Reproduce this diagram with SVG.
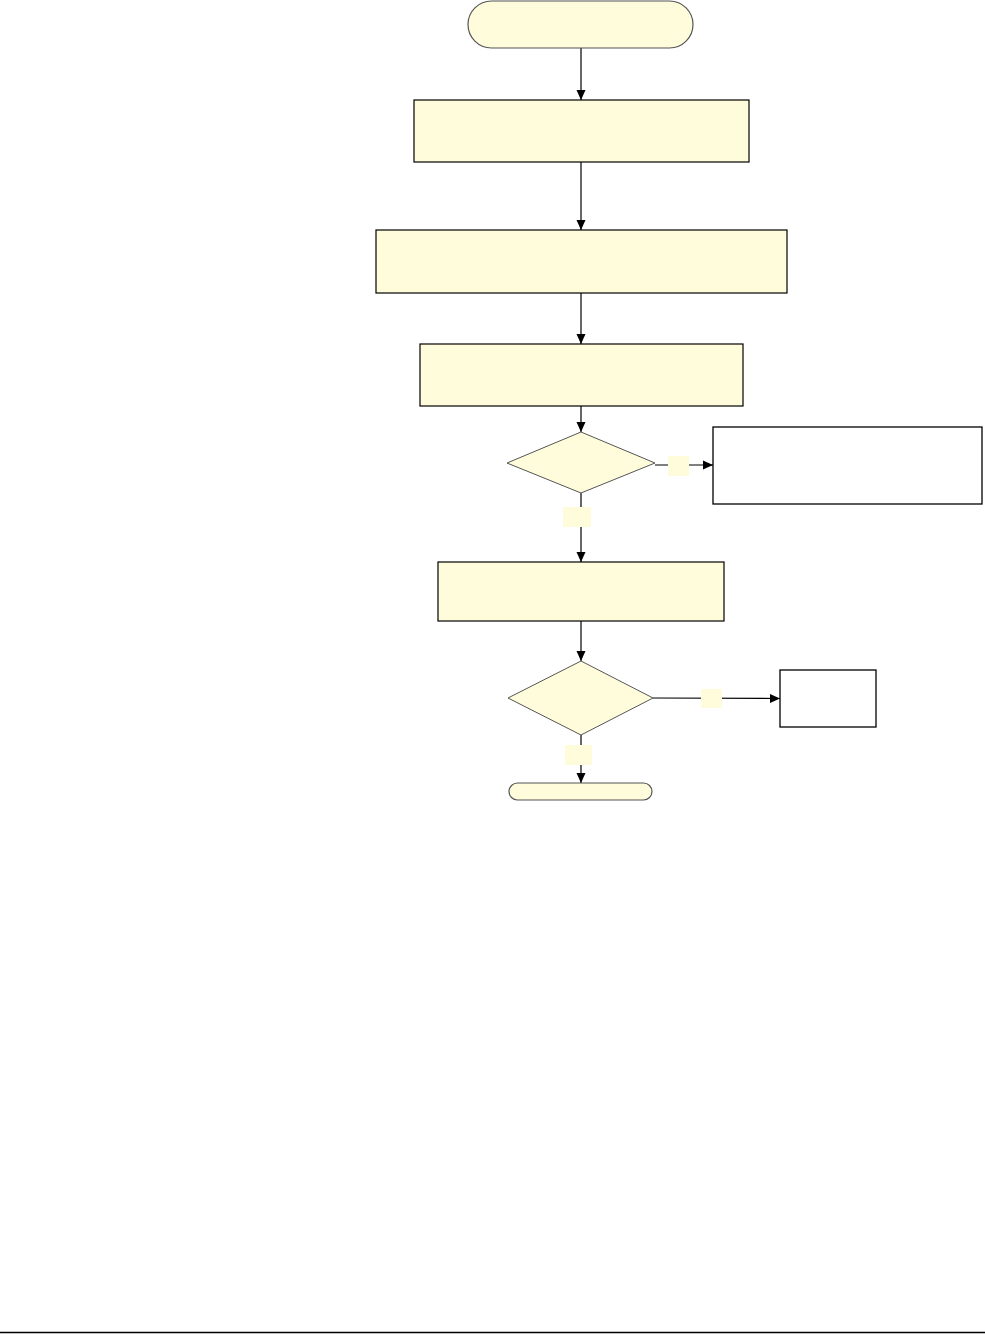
<svg xmlns="http://www.w3.org/2000/svg" width="985" height="1334" viewBox="0 0 985 1334">
<style>
.proc{fill:#fffcdc;stroke:#000;stroke-width:1.2}
.term{fill:#fffcdc;stroke:#555;stroke-width:1.2}
.dec{fill:#fffcdc;stroke:#555;stroke-width:1}
.out{fill:#fff;stroke:#000;stroke-width:1.3}
.lbl{fill:#fffcdc;stroke:none}
.con{fill:none;stroke:#000;stroke-width:1.2}
</style>
<defs>
<marker id="ah" viewBox="0 0 10 10" refX="10" refY="5" markerWidth="10" markerHeight="10" markerUnits="userSpaceOnUse" orient="auto">
<path d="M0,0.5 L10,5 L0,9.5 Z" fill="#000"/>
</marker>
</defs>
<rect width="985" height="1334" fill="#fff"/>
<g id="connectors">
<line class="con" x1="581" y1="48" x2="581" y2="100" marker-end="url(#ah)"/>
<line class="con" x1="581" y1="162" x2="581" y2="230" marker-end="url(#ah)"/>
<line class="con" x1="581" y1="293" x2="581" y2="344" marker-end="url(#ah)"/>
<line class="con" x1="581" y1="406" x2="581" y2="432" marker-end="url(#ah)"/>
<line class="con" x1="655" y1="465" x2="713" y2="465" marker-end="url(#ah)"/>
<line class="con" x1="581" y1="493" x2="581" y2="562" marker-end="url(#ah)"/>
<line class="con" x1="581" y1="621" x2="581" y2="661" marker-end="url(#ah)"/>
<line class="con" x1="653" y1="698" x2="780" y2="698.5" marker-end="url(#ah)"/>
<line class="con" x1="581" y1="735" x2="581" y2="783" marker-end="url(#ah)"/>
</g>
<g id="start"><rect class="term" x="468" y="1" width="225" height="47" rx="23.5"/></g>
<g id="step1"><rect class="proc" x="414" y="100" width="335" height="62"/></g>
<g id="step2"><rect class="proc" x="376" y="230" width="411" height="63"/></g>
<g id="step3"><rect class="proc" x="420" y="344" width="323" height="62"/></g>
<g id="decision1"><polygon class="dec" points="581,432 655,463 581,493 507,463"/></g>
<g id="label1"><rect class="lbl" x="668" y="456" width="21" height="20"/></g>
<g id="label2"><rect class="lbl" x="563" y="507" width="28" height="20"/></g>
<g id="output1"><rect class="out" x="713" y="427" width="269" height="77"/></g>
<g id="step4"><rect class="proc" x="438" y="562" width="286" height="59"/></g>
<g id="decision2"><polygon class="dec" points="581,661 653,698 581,735 508,698"/></g>
<g id="label3"><rect class="lbl" x="701" y="689" width="21" height="19"/></g>
<g id="label4"><rect class="lbl" x="565" y="745" width="27" height="20"/></g>
<g id="output2"><rect class="out" x="780" y="670" width="96" height="57"/></g>
<g id="end"><rect class="term" x="509" y="783" width="143" height="17" rx="8.5"/></g>
<line x1="0" y1="1332.5" x2="985" y2="1332.5" stroke="#000" stroke-width="1.5"/>
</svg>
